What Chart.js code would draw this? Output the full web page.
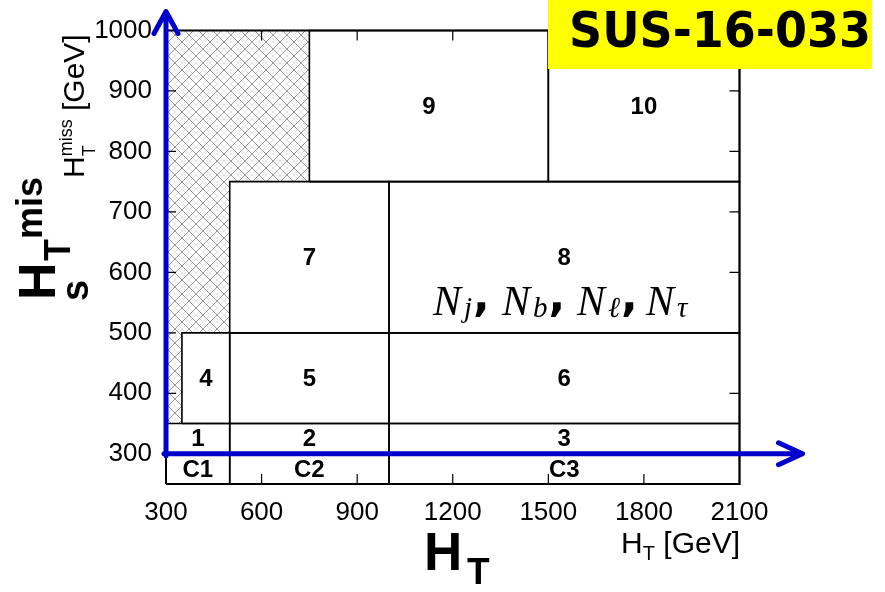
<!DOCTYPE html>
<html><head><meta charset="utf-8">
<script src="https://cdn.jsdelivr.net/npm/chart.js@4.4.1/dist/chart.umd.min.js"></script>
<style>html,body{margin:0;padding:0;background:#fff;} #wrap{position:relative;width:885px;height:592px;} canvas{display:block;}</style>
</head><body><div id="wrap"><canvas id="c" width="885" height="592"></canvas></div>
<script>
// ---- data ----
const binLabels  = ['1','2','3','4','5','6','7','8','9','10'];
const binHtLow   = [300, 500, 1000, 350, 500, 1000, 500, 1000, 750, 1500];
const binHtHigh  = [500, 1000, 2100, 500, 1000, 2100, 1000, 2100, 1500, 2100];
const binMhtLow  = [300, 300, 300, 350, 350, 350, 500, 500, 750, 750];
const binMhtHigh = [350, 350, 350, 500, 500, 500, 750, 750, 1000, 1000];
const ctrlLabels  = ['C1','C2','C3'];
const ctrlHtLow   = [300, 500, 1000];
const ctrlHtHigh  = [500, 1000, 2100];
const ctrlMhtLow  = [250, 250, 250];
const ctrlMhtHigh = [300, 300, 300];
const excludedHt  = [300, 350, 350, 500, 500, 750, 750];
const excludedMht = [350, 350, 500, 500, 750, 750, 1000];
const xTickValues = [300, 600, 900, 1200, 1500, 1800, 2100];
const yTickValues = [300, 400, 500, 600, 700, 800, 900, 1000];
const htRange  = [300, 2100];
const mhtRange = [250, 1000];
const arrowOrigin = [300, 300];

// ---- helpers ----
function rect(x0, x1, y0, y1) {
  return [{x:x0,y:y0},{x:x1,y:y0},{x:x1,y:y1},{x:x0,y:y1},{x:x0,y:y0}];
}
function hatchPattern() {
  const s = 14, c = document.createElement('canvas');
  c.width = s; c.height = s;
  const g = c.getContext('2d');
  g.lineWidth = 1;
  // faint secondary lines
  g.strokeStyle = 'rgba(120,120,120,0.18)';
  g.beginPath();
  g.moveTo(-1 - s/2, -1); g.lineTo(s/2 + 1, s + 1);
  g.moveTo(s/2 - 1, -1); g.lineTo(s*1.5 + 1, s + 1);
  g.moveTo(s/2 + 1, -1); g.lineTo(-s/2 - 1, s + 1);
  g.moveTo(s*1.5 + 1, -1); g.lineTo(s/2 - 1, s + 1);
  g.stroke();
  g.strokeStyle = 'rgba(70,70,70,0.55)';
  g.beginPath();
  g.moveTo(-1,-1); g.lineTo(s+1,s+1);
  g.moveTo(s+1,-1); g.lineTo(-1,s+1);
  g.stroke();
  return g.createPattern(c, 'repeat');
}
const FONT = '"Liberation Sans", Arial, sans-serif';

const datasets = [];
const outline = (data, w) => ({data, showLine:true, fill:false, borderColor:'#000', borderWidth:w,
  pointRadius:0, pointHoverRadius:0, tension:0, order:0, clip:false});
datasets.push(outline(rect(htRange[0], htRange[1], mhtRange[0], mhtRange[1]), 2));
for (let i = 0; i < binLabels.length; i++)
  datasets.push(outline(rect(binHtLow[i], binHtHigh[i], binMhtLow[i], binMhtHigh[i]), 1.6));
for (let i = 0; i < ctrlLabels.length; i++)
  datasets.push(outline(rect(ctrlHtLow[i], ctrlHtHigh[i], ctrlMhtLow[i], ctrlMhtHigh[i]), 1.6));
datasets.push({
  data: excludedHt.map((x, i) => ({x, y: excludedMht[i]})),
  showLine:true, fill:'end', backgroundColor: hatchPattern(), borderWidth:0,
  borderColor:'rgba(0,0,0,0)', pointRadius:0, pointHoverRadius:0, tension:0, order:10
});

const overlay = {
  id: 'overlay',
  afterDatasetsDraw(chart) {
    const ctx = chart.ctx, xs = chart.scales.x, ys = chart.scales.y, a = chart.chartArea;
    ctx.save();
    // tick marks (inward, all four sides)
    ctx.strokeStyle = '#000'; ctx.lineWidth = 1.2;
    ctx.beginPath();
    xs.ticks.forEach(t => {
      if (t.value === htRange[0] || t.value === htRange[1]) return;
      const p = xs.getPixelForValue(t.value);
      ctx.moveTo(p, a.bottom); ctx.lineTo(p, a.bottom - 10);
      ctx.moveTo(p, a.top); ctx.lineTo(p, a.top + 10);
    });
    ys.ticks.forEach(t => {
      if (t.value === mhtRange[1]) return;
      const p = ys.getPixelForValue(t.value);
      ctx.moveTo(a.left, p); ctx.lineTo(a.left + 10, p);
      ctx.moveTo(a.right, p); ctx.lineTo(a.right - 10, p);
    });
    ctx.stroke();
    // bin labels
    ctx.fillStyle = '#000';
    ctx.textAlign = 'center'; ctx.textBaseline = 'middle';
    ctx.font = 'bold 24px ' + FONT;
    for (let i = 0; i < binLabels.length; i++) {
      const cx = xs.getPixelForValue((binHtLow[i] + binHtHigh[i]) / 2);
      const cy = ys.getPixelForValue((binMhtLow[i] + binMhtHigh[i]) / 2);
      ctx.fillText(binLabels[i], cx, cy + 1);
    }
    for (let i = 0; i < ctrlLabels.length; i++) {
      const cx = xs.getPixelForValue((ctrlHtLow[i] + ctrlHtHigh[i]) / 2);
      const cy = ys.getPixelForValue((ctrlMhtLow[i] + ctrlMhtHigh[i]) / 2);
      ctx.fillText(ctrlLabels[i], cx, cy + 1);
    }
    ctx.restore();
  },
  afterDraw(chart) {
    const ctx = chart.ctx, xs = chart.scales.x, ys = chart.scales.y, a = chart.chartArea;
    ctx.save();
    // blue arrows
    const x0 = xs.getPixelForValue(arrowOrigin[0]), y0 = ys.getPixelForValue(arrowOrigin[1]);
    ctx.strokeStyle = '#0000cc'; ctx.lineWidth = 5; ctx.lineCap = 'round'; ctx.lineJoin = 'round';
    const topTip = a.top - 19, rightTip = a.right + 63;
    ctx.beginPath();
    ctx.moveTo(x0, y0 + 2); ctx.lineTo(x0, topTip + 1);
    ctx.moveTo(x0 - 12, topTip + 22); ctx.lineTo(x0, topTip); ctx.lineTo(x0 + 12, topTip + 22);
    ctx.moveTo(x0 - 2, y0); ctx.lineTo(rightTip - 1, y0);
    ctx.moveTo(rightTip - 24, y0 - 11); ctx.lineTo(rightTip, y0); ctx.lineTo(rightTip - 24, y0 + 11);
    ctx.stroke();

    ctx.fillStyle = '#000';
    ctx.textAlign = 'left'; ctx.textBaseline = 'alphabetic';
    // x axis title: H_T [GeV]
    ctx.font = '30px ' + FONT; const wH = ctx.measureText('H').width, wG = ctx.measureText(' [GeV]').width;
    ctx.font = '20px ' + FONT; const wT = ctx.measureText('T').width;
    let sx = 740 - (wH + wT + wG);
    ctx.font = '30px ' + FONT; ctx.fillText('H', sx, 553);
    ctx.font = '20px ' + FONT; ctx.fillText('T', sx + wH, 560);
    ctx.font = '30px ' + FONT; ctx.fillText(' [GeV]', sx + wH + wT, 553);

    // y axis title: H_T^miss [GeV], rotated
    ctx.save();
    ctx.translate(84, 178); ctx.rotate(-Math.PI / 2);
    ctx.font = '30px ' + FONT; const yH = ctx.measureText('H').width;
    ctx.fillText('H', 0, 0);
    ctx.font = '18px ' + FONT; const yT = ctx.measureText('T').width, yM = ctx.measureText('miss').width;
    ctx.fillText('T', yH, 11);
    ctx.fillText('miss', yH, -12);
    ctx.font = '30px ' + FONT; ctx.fillText(' [GeV]', yH + Math.max(yT, yM), 0);
    ctx.restore();

    // big bold H_T bottom
    ctx.font = 'bold 53px ' + FONT; ctx.fillText('H', 424, 570);
    ctx.font = 'bold 37px ' + FONT; ctx.fillText('T', 467, 584);

    // big bold rotated left label
    ctx.save();
    ctx.translate(0, 300); ctx.rotate(-Math.PI / 2);
    ctx.font = 'bold 52px ' + FONT; ctx.fillText('H', 0, 55);
    ctx.font = 'bold 36px ' + FONT; ctx.fillText('T', 39, 70);
    ctx.font = 'bold 36px ' + FONT; ctx.fillText('mis', 61, 42);
    ctx.font = 'bold 38px ' + FONT; ctx.fillText('s', -1, 88);
    ctx.restore();

    // N_j, N_b, N_l, N_tau
    const nX = [433, 502, 577, 646], subs = ['j', 'b', 'ℓ', 'τ'];
    for (let i = 0; i < 4; i++) {
      ctx.font = 'italic 42px "Liberation Serif", serif';
      ctx.fillText('N', nX[i], 315);
      ctx.font = 'italic 29px "Liberation Serif", serif';
      const wS = ctx.measureText(subs[i]).width;
      ctx.fillText(subs[i], nX[i] + 31, 317);
      if (i < 3) {
        ctx.font = 'bold 44px "DejaVu Sans", sans-serif';
        ctx.fillText(',', nX[i] + 31 + wS + 1, 311);
      }
    }

    // yellow tag
    ctx.fillStyle = '#ffff00';
    ctx.fillRect(548, 0, 324, 69);
    ctx.fillStyle = '#000';
    ctx.font = 'bold 50px "DejaVu Sans", sans-serif';
    ctx.fillText('SUS-16-033', 569, 47, 302);
    ctx.restore();
  }
};

new Chart(document.getElementById('c'), {
  type: 'scatter',
  data: { datasets },
  options: {
    responsive: false, animation: false, devicePixelRatio: 1,
    layout: { padding: { top: 30.5, right: 145.5, left: 0, bottom: 0 } },
    plugins: { legend: { display: false }, tooltip: { enabled: false } },
    events: [],
    scales: {
      x: {
        type: 'linear', min: htRange[0], max: htRange[1],
        afterBuildTicks: s => { s.ticks = xTickValues.map(v => ({ value: v })); },
        afterFit: s => { s.height = 108; },
        ticks: { font: { family: FONT, size: 26 }, color: '#000', padding: 5, maxRotation: 0, autoSkip: false, callback: v => String(v) },
        grid: { display: false }, border: { display: false }
      },
      y: {
        type: 'linear', min: mhtRange[0], max: mhtRange[1],
        afterBuildTicks: s => { s.ticks = yTickValues.map(v => ({ value: v })); },
        afterFit: s => { s.width = 166; },
        ticks: { font: { family: FONT, size: 26 }, color: '#000', padding: 6, autoSkip: false, callback: v => String(v) },
        grid: { display: false }, border: { display: false }
      }
    }
  },
  plugins: [overlay]
});
</script></body></html>
